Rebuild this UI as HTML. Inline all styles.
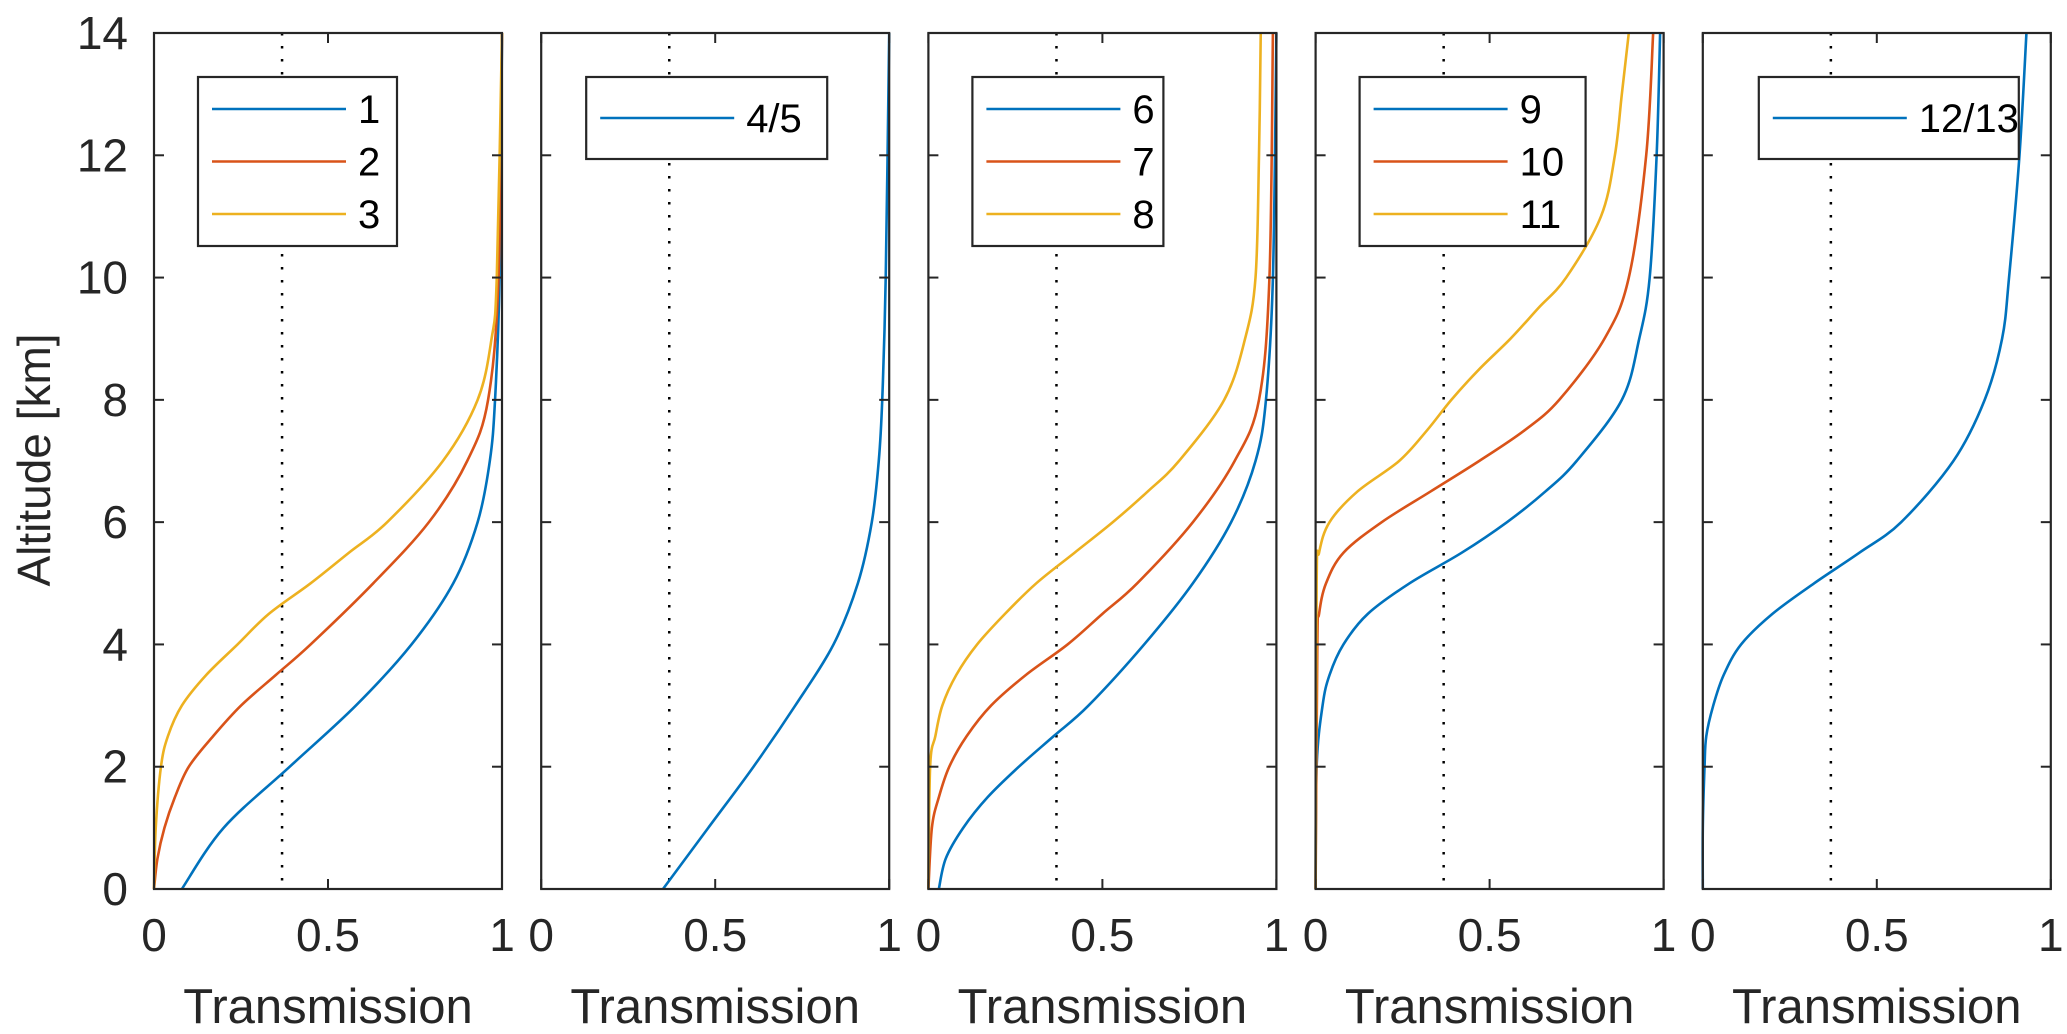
<!DOCTYPE html>
<html><head><meta charset="utf-8"><style>
html,body{margin:0;padding:0;background:#fff;}
svg{display:block;font-family:"Liberation Sans",Arial,sans-serif;}
</style></head><body>
<svg id="chart" width="2067" height="1034" viewBox="0 0 2067 1034"></svg>
<script>
// ---- data ----
const panelNames = ["panel-1-3","panel-4-5","panel-6-8","panel-9-11","panel-12-13"];
const legendLabels = [["1","2","3"],["4/5"],["6","7","8"],["9","10","11"],["12/13"]];
const yTicks = [0,2,4,6,8,10,12,14];
const xTicks = [0,0.5,1];
const xTickLabels = ["0","0.5","1"];
const refLine = 0.368;
// series: altitude (km) and transmission
const alt1 = [0,1,2,3,4,5,6,7,8,10,14];
const tr1  = [0.08,0.2,0.39,0.58,0.74,0.86,0.93,0.965,0.98,0.993,1];
const alt2 = [0,0.5,1,1.5,2,2.5,3,3.5,4,5,6,7,8,10,14];
const tr2  = [0,0.01,0.03,0.06,0.1,0.17,0.25,0.35,0.45,0.63,0.79,0.9,0.96,0.99,1];
const alt3 = [0,1,2,2.5,3,3.5,4,4.5,5,5.5,6,7,8,9,10,14];
const tr3  = [0,0.005,0.02,0.04,0.08,0.15,0.24,0.33,0.45,0.56,0.67,0.83,0.93,0.97,0.985,1];
const alt45 = [0,1,2,3,4,5,6,7,8,10,14];
const tr45  = [0.35,0.48,0.61,0.73,0.84,0.91,0.95,0.97,0.98,0.99,1];
const alt6 = [0,0.5,1,1.5,2,2.5,3,4,5,6,7,8,10,14];
const tr6  = [0.03,0.05,0.1,0.17,0.26,0.36,0.46,0.62,0.76,0.87,0.94,0.97,0.99,1];
const alt7 = [0,1,1.5,2,2.5,3,3.5,4,4.5,5,6,7,8,10,14];
const tr7  = [0,0.01,0.03,0.06,0.11,0.18,0.28,0.4,0.5,0.6,0.76,0.88,0.95,0.98,0.99];
const alt8 = [0,2,2.5,3,3.5,4,4.5,5,5.5,6,6.5,7,8,9,10,12,14];
const tr8  = [0,0.005,0.02,0.04,0.08,0.14,0.22,0.31,0.42,0.53,0.63,0.72,0.85,0.91,0.94,0.95,0.955];
const alt9 = [0,2,3,3.5,4,4.5,5,5.5,6,6.5,7,8,9,10,12,14];
const tr9  = [0,0.003,0.02,0.04,0.08,0.15,0.27,0.42,0.55,0.66,0.75,0.88,0.93,0.96,0.98,0.99];
const alt10 = [0,4,4.5,5,5.5,6,6.5,7,7.5,8,9,10,12,14];
const tr10  = [0,0.005,0.01,0.03,0.08,0.19,0.33,0.47,0.6,0.7,0.83,0.9,0.95,0.97];
const alt11 = [0,5,5.5,6,6.5,7,7.5,8,8.5,9,9.5,10,11,12,13,14];
const tr11  = [0,0.003,0.01,0.04,0.12,0.24,0.32,0.39,0.47,0.56,0.64,0.72,0.82,0.86,0.88,0.9];
const alt12 = [0,1,2,2.5,3,3.5,4,4.5,5,5.5,6,7,8,9,10,12,14];
const tr12  = [0,0,0.005,0.01,0.03,0.06,0.11,0.2,0.32,0.45,0.57,0.72,0.81,0.86,0.88,0.91,0.93];
const panelSeries = [
  [[alt1,tr1],[alt2,tr2],[alt3,tr3]],
  [[alt45,tr45]],
  [[alt6,tr6],[alt7,tr7],[alt8,tr8]],
  [[alt9,tr9],[alt10,tr10],[alt11,tr11]],
  [[alt12,tr12]]
];
const colors = ["#0072BD","#D95319","#EDB120"];

// ---- layout ----
const NS="http://www.w3.org/2000/svg";
const svg=document.getElementById("chart");
const left0=154, step=387.2, pw=348, topY=33, bottomY=889;
const legendW=[199,241,191,226,260], legendX=[44,45,44,44,56];
function el(tag,attrs,parent){const e=document.createElementNS(NS,tag);for(const k in attrs)e.setAttribute(k,attrs[k]);(parent||svg).appendChild(e);return e;}
const yScale=v=>bottomY-(v/14)*(bottomY-topY);

function smoothPath(pts){
  let d="M"+pts[0][0].toFixed(2)+","+pts[0][1].toFixed(2);
  for(let i=0;i<pts.length-1;i++){
    const p0=pts[i-1]||pts[i],p1=pts[i],p2=pts[i+1],p3=pts[i+2]||p2;
    const c1=[p1[0]+(p2[0]-p0[0])/6,p1[1]+(p2[1]-p0[1])/6];
    const c2=[p2[0]-(p3[0]-p1[0])/6,p2[1]-(p3[1]-p1[1])/6];
    d+=" C"+c1[0].toFixed(2)+","+c1[1].toFixed(2)+" "+c2[0].toFixed(2)+","+c2[1].toFixed(2)+" "+p2[0].toFixed(2)+","+p2[1].toFixed(2);
  }
  return d;
}

panelNames.forEach((pname,pi)=>{
  const L=left0+pi*step;
  const xScale=v=>L+v*pw;
  const g=el("g",{});
  
  
  const rl=el("line",{x1:xScale(refLine),x2:xScale(refLine),y1:topY,y2:bottomY,stroke:"#000","stroke-width":2.5,"stroke-dasharray":"2.5 10.5"},g);
  
  
  panelSeries[pi].forEach((s,si)=>{
    const pts=s[0].map((a,i)=>[xScale(s[1][i]),yScale(a)]);
    const p=el("path",{d:smoothPath(pts),fill:"none",stroke:colors[si],"stroke-width":2.6},g);
    
    
  });
  yTicks.forEach(t=>{
    const y=yScale(t);
    el("line",{x1:L,x2:L+10,y1:y,y2:y,stroke:"#262626","stroke-width":2},g);
    el("line",{x1:L+pw-10,x2:L+pw,y1:y,y2:y,stroke:"#262626","stroke-width":2},g);
    if(pi===0){
      const tx=el("text",{x:L-26,y:y+16,"text-anchor":"end","font-size":46,fill:"#262626"},g);
      tx.textContent=String(t);
      
      
    }
  });
  xTicks.forEach((t,i)=>{
    const x=xScale(t);
    el("line",{x1:x,x2:x,y1:bottomY,y2:bottomY-10,stroke:"#262626","stroke-width":2},g);
    el("line",{x1:x,x2:x,y1:topY,y2:topY+10,stroke:"#262626","stroke-width":2},g);
    const tx=el("text",{x:x,y:951,"text-anchor":"middle","font-size":46,fill:"#262626"},g);
    tx.textContent=xTickLabels[i];
    
    
  });
  const fr=el("rect",{x:L,y:topY,width:pw,height:bottomY-topY,fill:"none",stroke:"#262626","stroke-width":2.2},g);
  
  
  const xt=el("text",{x:L+pw/2,y:1023,"text-anchor":"middle","font-size":49,fill:"#262626"},g);
  xt.textContent="Transmission";
  
  
  const n=legendLabels[pi].length;
  const lx=L+legendX[pi], ly=77, lh=n===1?82:169;
  const lg=el("g",{},g);
  
  
  el("rect",{x:lx,y:ly,width:legendW[pi],height:lh,fill:"#fff",stroke:"#262626","stroke-width":2.2},lg);
  legendLabels[pi].forEach((lab,i)=>{
    const yy=(n===1?ly+41:ly+32+i*52.5);
    const e=el("g",{},lg);
    
    
    el("line",{x1:lx+14,x2:lx+148,y1:yy,y2:yy,stroke:colors[i],"stroke-width":2.6},e);
    const t=el("text",{x:lx+160,y:yy+14,"font-size":40,fill:"#000"},e);
    t.textContent=lab;
  });
});
const yt=el("text",{x:0,y:0,"text-anchor":"middle","font-size":46,fill:"#262626",transform:"translate(50,460) rotate(-90)"});
yt.textContent="Altitude [km]";


</script>
</body></html>
